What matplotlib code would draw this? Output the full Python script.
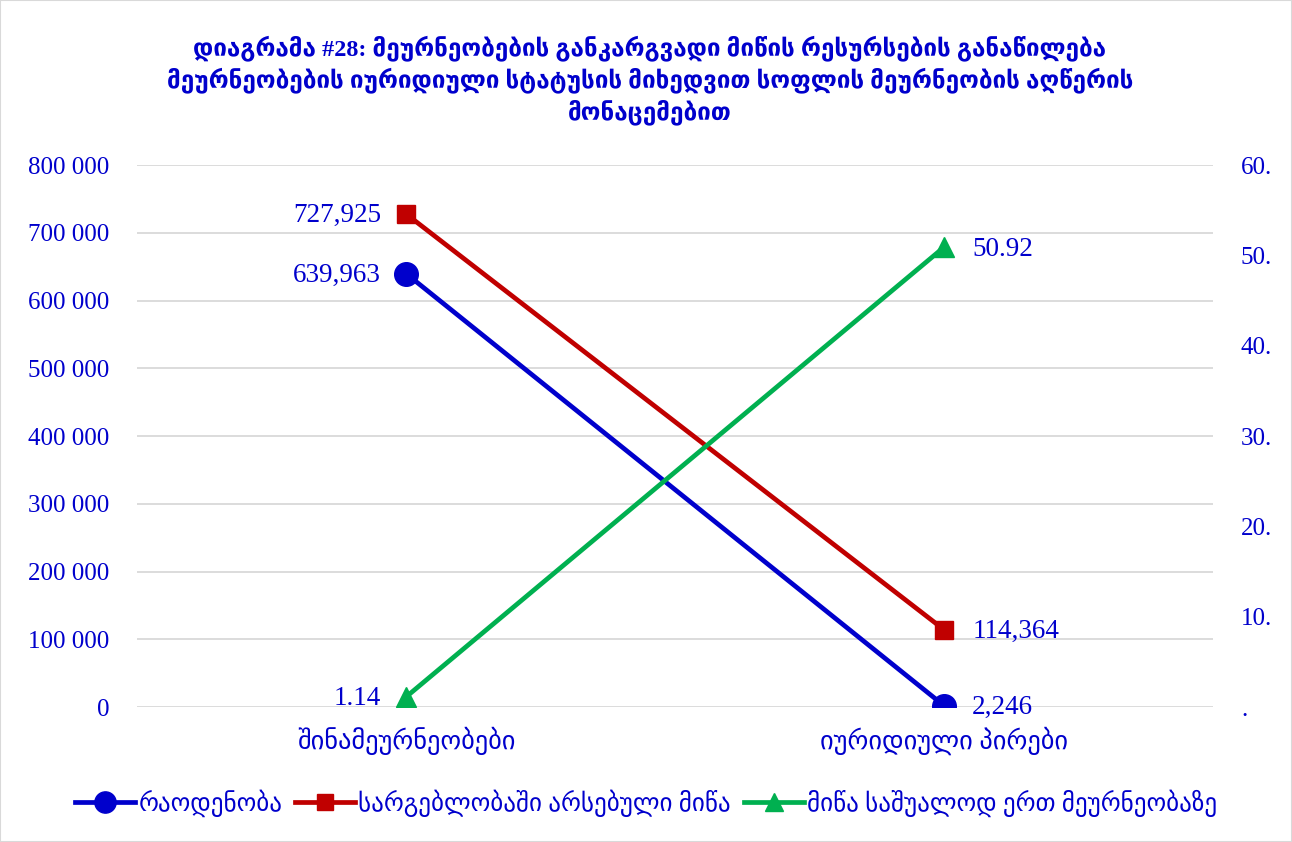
import matplotlib
matplotlib.use("Agg")
import matplotlib.pyplot as plt
from matplotlib.patches import Rectangle

plt.rcParams['font.family'] = ['Liberation Serif', 'DejaVu Sans']

categories = ['შინამეურნეობები', 'იურიდიული პირები']
count = [639963, 2246]
land = [727925, 114364]
avg_land = [1.14, 50.92]
left_ticks = [0, 100000, 200000, 300000, 400000, 500000, 600000, 700000, 800000]
left_tick_labels = ['0', '100 000', '200 000', '300 000', '400 000', '500 000',
                    '600 000', '700 000', '800 000']
right_ticks = [0, 10, 20, 30, 40, 50, 60]
right_tick_labels = ['.', '10.', '20.', '30.', '40.', '50.', '60.']
series_names = ['რაოდენობა', 'სარგებლობაში არსებული მიწა', 'მიწა საშუალოდ ერთ მეურნეობაზე']

title = ('დიაგრამა #28: მეურნეობების განკარგვადი მიწის რესურსების განაწილება\n'
         'მეურნეობების იურიდიული სტატუსის მიხედვით სოფლის მეურნეობის აღწერის\n'
         'მონაცემებით')

BLUE = '#0000CC'
RED = '#C00000'
GREEN = '#00B050'
TXT = '#0000CC'

fig = plt.figure(figsize=(12.92, 8.42), dpi=100)
ax = fig.add_axes([0.106, 0.160, 0.833, 0.644])
ax2 = ax.twinx()

x = list(range(len(categories)))
l1, = ax.plot(x, count, color=BLUE, lw=3.4, marker='o', ms=17, zorder=3)
l2, = ax.plot(x, land, color=RED, lw=3.4, marker='s', ms=13, zorder=3)
l3, = ax2.plot(x, avg_land, color=GREEN, lw=3.4, marker='^', ms=14, zorder=3)

ax.set_xlim(-0.5, 1.5)
ax.set_ylim(0, 800000)
ax2.set_ylim(0, 60)
ax.set_yticks(left_ticks)
ax.set_yticklabels(left_tick_labels)
ax2.set_yticks(right_ticks)
ax2.set_yticklabels(right_tick_labels)
ax.set_xticks(x)
ax.set_xticklabels(categories)

for a in (ax, ax2):
    for s in a.spines.values():
        s.set_visible(False)
    a.tick_params(length=0, labelsize=18, labelcolor=TXT)
ax.tick_params(axis='y', pad=20)
ax2.tick_params(axis='y', pad=20)
ax.tick_params(axis='x', pad=14, labelsize=19)
ax.grid(axis='y', color='#D9D9D9', lw=1.3)
ax.set_axisbelow(True)

def fmt(v):
    return f'{v:,}'

for vals, a, f in ((count, ax, fmt), (land, ax, fmt), (avg_land, ax2, lambda v: f'{v:.2f}')):
    a.annotate(f(vals[0]), (x[0], vals[0]), xytext=(-25, -2), textcoords='offset pixels',
               ha='right', va='center', fontsize=19.5, color=TXT)
    a.annotate(f(vals[1]), (x[1], vals[1]), xytext=(28, -2), textcoords='offset pixels',
               ha='left', va='center', fontsize=19.5, color=TXT)

fig.text(0.503, 0.905, title, ha='center', va='center', fontsize=17.5, color=TXT,
         fontweight='bold', linespacing=1.3)

fig.legend([l1, l2, l3], series_names, loc='center', bbox_to_anchor=(0.5, 0.046),
           ncol=3, frameon=False, fontsize=18, labelcolor=TXT, handlelength=2.4,
           handletextpad=0.15, columnspacing=0.5, markerscale=0.9)

fig.patches.append(Rectangle((0, 0), 1, 1, transform=fig.transFigure, fill=False,
                             edgecolor='#D9D9D9', lw=1.5))

fig.savefig('out.png', dpi=100)
